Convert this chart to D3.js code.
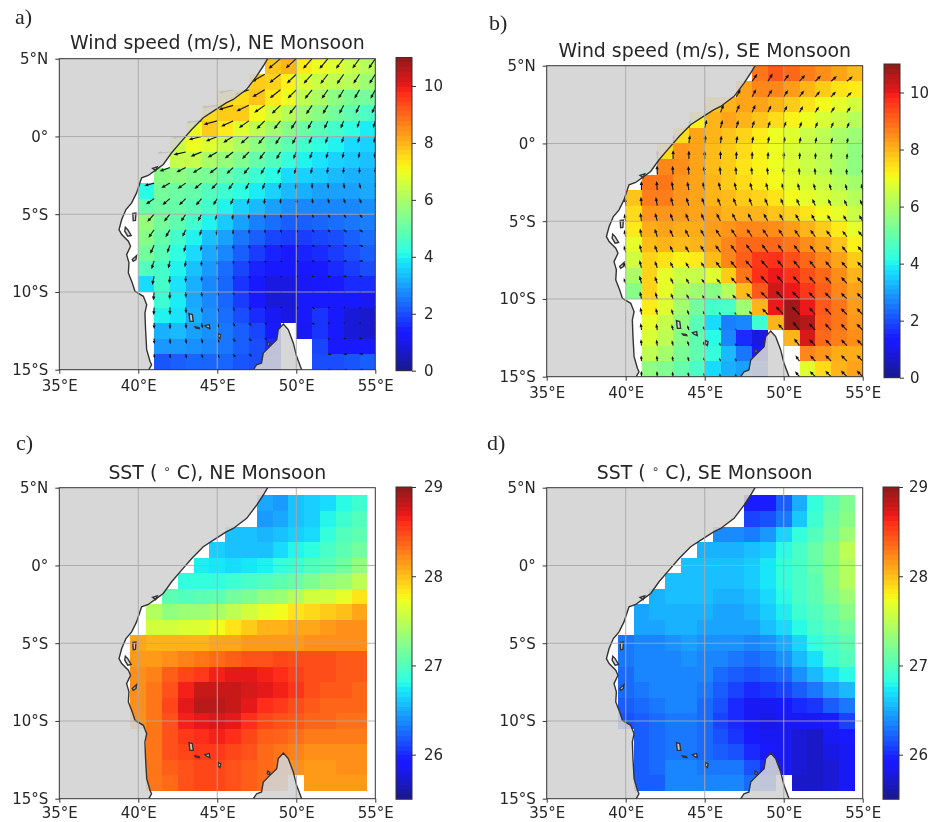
<!DOCTYPE html>
<html>
<head>
<meta charset="utf-8">
<script src="https://cdn.jsdelivr.net/npm/d3@7"></script>
<style>
    body { margin: 0; background: #fff; }
    svg { display: block; filter: blur(0.4px); }
    text { font-family: "DejaVu Sans", sans-serif; fill: #262626; }
</style>
</head>
<body>
<div id="chart"></div>
<script>
var _ = null;

var lonTicks = [35, 40, 45, 50, 55],
    latTicks = [5, 0, -5, -10, -15],
    lonGrid = [40, 45, 50],
    latGrid = [0, -5, -10],
    lonTickLabels = ['35°E', '40°E', '45°E', '50°E', '55°E'],
    latTickLabels = ['5°N', '0°', '5°S', '10°S', '15°S'],
    windTicks = [0, 2, 4, 6, 8, 10],
    sstTicks = [26, 27, 28, 29];

// wind cells: first row is lat 5..4, first column lon 40..41
var windNE = [
    [_,_,_,_,_,_,_,_,7.8,8.0,7.3,7.0,6.8,6.5,6.2],
    [_,_,_,_,_,_,_,7.7,7.6,7.2,6.8,6.5,6.3,6.2,5.8],
    [_,_,_,_,_,7.5,7.5,7.8,7.3,7,6.3,6,5.6,5.3,5.2],
    [_,_,_,_,7.5,7.7,7.7,7.1,6.6,6.2,5.8,5.5,5.2,4.9,4.6],
    [_,_,_,7,7.7,7.3,6.8,6.3,5.9,5.5,5.1,4.8,4.5,4.2,3.9],
    [_,_,6.5,7,6.8,6.4,6,5.6,5.2,4.9,4.5,4.2,4,3.7,3.6],
    [_,_,6.4,6.4,6,5.7,5.4,5,4.7,4.3,4,3.8,3.6,3.5,3.4],
    [_,5.5,5.6,5.4,5.3,5,4.7,4.4,4.1,3.7,3.6,3.5,3.3,3.2,3.2],
    [4.1,5.2,5.1,5,4.7,4.4,4.2,3.9,3.6,3.3,3.2,3,3,3,3.1],
    [5,5.1,5,4.8,4.5,4,3.6,3.3,3,2.8,2.7,2.7,2.7,2.7,2.8],
    [5.7,5.2,4.9,4.5,4,3.5,3,2.6,2.4,2.2,2.2,2.3,2.4,2.5,2.6],
    [5.5,5,4.5,4,3.4,3,2.5,2.2,1.9,1.8,1.8,1.9,2,2.2,2.4],
    [5.2,4.8,4.2,3.7,3.1,2.7,2.2,1.8,1.5,1.4,1.5,1.6,1.8,2,2.2],
    [4.7,4.5,4,3.4,2.9,2.4,1.9,1.5,1.3,1.2,1.3,1.4,1.6,1.8,2],
    [3.7,4.5,3.8,3.2,2.7,2.3,1.7,1.3,0.9,0.9,1.1,1.2,1.4,1.6,1.6],
    [_,4.4,3.9,3.1,2.7,2.3,1.8,1.3,0.8,0.8,1.2,1.3,1.3,1.3,1.1],
    [_,4,3.8,3.2,2.8,2.4,2,1.6,1.1,0.9,1.3,1.7,1.2,0.8,0.7],
    [_,3.2,3.3,3,2.8,2.5,2.2,1.9,1.4,_,1.1,1.7,1.2,0.8,0.7],
    [_,2.9,2.9,2.8,2.7,2.5,2.2,2,1.6,_,_,1.9,1.2,1.3,1.4],
    [_,2.1,2.2,2.3,2.3,2.3,2.1,2,1.8,_,_,2,2,2.1,2.2]
];

var windSE = [
    [_,_,_,_,_,_,_,_,8.8,9.2,9,8.7,8.5,8.2,7.9],
    [_,_,_,_,_,_,_,8.2,8.6,8.6,8.3,8,7.7,7.4,7.3],
    [_,_,_,_,_,7.8,8,8.2,8.2,8,7.7,7.4,7.1,6.9,6.6],
    [_,_,_,_,7.2,8,8.2,8,7.8,7.5,7.2,7,6.7,6.5,6.2],
    [_,_,_,7.5,8.2,8,7.8,7.6,7.3,7,6.8,6.5,6.3,6,5.8],
    [_,_,7.5,8.4,8.2,7.9,7.7,7.5,7.2,7,6.7,6.5,6.3,6,5.6],
    [_,_,8.6,8.5,8.2,7.9,7.7,7.4,7.2,7,6.8,6.5,6.3,6,5.6],
    [_,8.8,8.8,8.4,8.2,8,7.7,7.5,7.3,7.1,6.9,6.7,6.5,6.2,5.9],
    [7.8,8.7,8.7,8.4,8.2,8,7.9,7.7,7.6,7.4,7.1,6.9,6.7,6.5,6.2],
    [7.5,8.4,8.4,8.3,8.2,8.2,8,8,8,7.8,7.6,7.4,7.1,6.9,6.5],
    [7.3,8.1,8.2,8.1,8.1,8.3,8.4,8.6,8.6,8.5,8.3,8,7.7,7.3,6.9],
    [6.9,7.9,8,7.9,8,8.2,8.6,9,9,9,8.8,8.5,8.2,7.8,7.2],
    [6.6,7.6,7.4,7.2,7.3,7.9,8.6,9.1,9.6,9.7,9.3,9,8.6,8.2,7.7],
    [6,7.6,6.9,6.5,6.4,6.8,7.7,8.8,9.7,10,9.7,9.3,9,8.5,8],
    [5.5,7.6,6.9,6.1,5.8,5.5,6.2,7.9,9.2,10.3,10,9.6,9.1,8.6,8.2],
    [_,7.3,6.8,5.9,5.2,4.5,4.6,5.8,8,10,10.8,10,9.2,8.8,8.3],
    [_,6.9,6.4,5.6,4.8,3.7,2.6,2.7,4.4,8,10.8,10.6,9.1,8.8,8.4],
    [_,6.7,6.3,5.5,4.9,4.1,2.7,1.6,0.9,_,8,10.2,9,8.7,8.5],
    [_,6.3,5.9,5.3,4.9,4.3,3.3,2.5,1.4,_,_,8.6,8.4,8.1,8.1],
    [_,5.6,5.4,5,4.6,3.7,3.2,3,2.2,_,_,6.8,7.5,8,8.2]
];

// arrow direction (compass degrees the wind blows toward), first row lat 5, first column lon 40
var dirNE = [
    [_,_,_,_,_,_,_,_,_,230,228,222,220,218,216,214],
    [_,_,_,_,_,_,_,_,240,232,226,222,218,215,213,212],
    [_,_,_,_,_,_,258,250,240,232,225,219,215,212,210,208],
    [_,_,_,_,_,262,253,245,235,226,219,214,211,208,205,203],
    [_,_,_,_,265,255,245,235,225,218,213,208,205,202,199,197],
    [_,_,_,265,256,247,238,228,220,213,208,204,200,197,194,192],
    [_,_,265,257,248,240,232,224,216,210,204,199,195,191,188,187],
    [_,_,250,243,238,233,226,218,211,204,197,192,187,184,181,180],
    [_,255,240,235,230,224,216,208,200,192,185,180,176,173,170,167],
    [_,235,230,226,220,212,203,195,186,180,174,170,165,162,160,157],
    [_,222,218,213,207,200,190,182,176,170,165,158,150,148,143,140],
    [_,215,210,205,198,190,182,175,170,160,150,142,135,128,125,122],
    [_,205,200,195,188,182,175,165,155,140,125,118,112,108,107,105],
    [_,198,192,187,182,178,170,158,140,125,110,105,98,95,93,92],
    [_,192,185,181,178,172,165,150,130,115,100,95,90,88,85,85],
    [_,185,182,178,175,170,160,145,125,110,105,100,90,85,80,80],
    [_,183,180,176,172,165,155,140,120,110,105,110,95,85,75,75],
    [_,180,178,175,168,160,150,135,120,110,_,115,95,85,80,75],
    [_,178,176,172,165,155,145,130,120,110,_,_,110,90,85,80],
    [_,176,175,170,160,150,140,125,115,110,_,_,95,90,85,85],
    [_,175,172,165,155,145,130,120,_,_,_,_,90,88,85,85]
];

var dirSE = [
    [_,_,_,_,_,_,_,_,_,_,_,_,_,_,_,_],
    [_,_,_,_,_,_,_,_,35,32,38,42,45,48,50,52],
    [_,_,_,_,_,_,_,30,28,30,33,36,40,42,45,47],
    [_,_,_,_,_,_,22,23,24,25,28,30,32,34,36,38],
    [_,_,_,_,12,14,15,16,17,18,20,20,21,22,24,25],
    [_,_,_,5,7,6,7,8,9,10,10,11,11,12,12,12],
    [_,_,0,0,0,0,0,1,1,2,2,3,3,3,3,3],
    [_,_,358,356,356,355,355,355,355,354,354,355,355,355,355,355],
    [_,359,355,351,349,347,346,346,345,345,345,345,345,345,346,346],
    [355,356,350,345,342,340,339,338,338,337,337,337,336,336,335,335],
    [350,352,345,340,337,335,333,332,332,331,330,330,330,329,328,328],
    [348,350,342,336,332,330,327,326,325,325,325,325,324,323,322,322],
    [345,347,340,334,330,328,325,323,322,322,322,322,321,320,320,320],
    [340,345,340,334,329,326,323,320,318,318,320,320,320,319,318,318],
    [340,345,340,335,330,325,320,318,316,316,318,318,318,318,317,317],
    [345,348,343,338,333,328,322,317,315,315,315,315,316,316,316,316],
    [_,352,347,342,338,332,325,320,318,316,315,316,318,316,316,316],
    [_,353,350,345,340,335,330,325,325,322,317,320,316,316,316,316],
    [_,355,352,347,342,338,335,330,320,_,320,322,316,316,316,316],
    [_,356,354,350,346,342,338,335,330,_,_,325,318,316,316,316],
    [_,358,356,352,348,344,340,337,_,_,_,320,315,315,315,315]
];

// sst cells: first row is lat 4.5..3.5, first column lon 39.5..40.5
var sstNE = [
    [_,_,_,_,_,_,_,_,26.48,26.43,26.58,26.63,26.68,26.8,26.9],
    [_,_,_,_,_,_,_,_,26.43,26.48,26.58,26.63,26.78,26.9,27],
    [_,_,_,_,_,_,26.58,26.58,26.53,26.58,26.63,26.68,26.85,27,27.05],
    [_,_,_,_,_,26.63,26.58,26.58,26.58,26.68,26.78,26.83,26.95,27.05,27.15],
    [_,_,_,_,26.75,26.72,26.68,26.72,26.76,26.85,26.9,27,27.05,27.15,27.3],
    [_,_,_,26.85,26.85,26.85,26.9,26.95,27,27.05,27.1,27.2,27.3,27.35,27.5],
    [_,_,27.05,27,27.05,27.05,27.15,27.2,27.3,27.35,27.45,27.6,27.6,27.7,27.85],
    [_,27.45,27.3,27.35,27.35,27.4,27.5,27.6,27.7,27.75,27.85,27.9,27.95,28,28.1],
    [_,27.6,27.6,27.65,27.65,27.75,27.85,27.95,28.05,28.05,28.1,28.1,28.15,28.2,28.2],
    [28.1,28.05,28.05,28.05,28.05,28.1,28.1,28.15,28.15,28.15,28.15,28.2,28.2,28.2,28.2],
    [28.15,28.15,28.2,28.25,28.3,28.35,28.4,28.45,28.45,28.5,28.47,28.47,28.47,28.42,28.42],
    [28.2,28.25,28.4,28.5,28.55,28.65,28.7,28.7,28.65,28.6,28.52,28.47,28.47,28.42,28.42],
    [28.2,28.3,28.45,28.65,28.8,28.8,28.8,28.75,28.7,28.65,28.57,28.47,28.42,28.42,28.37],
    [28.2,28.3,28.5,28.7,28.85,28.85,28.8,28.7,28.6,28.55,28.47,28.42,28.37,28.37,28.37],
    [28.2,28.3,28.45,28.65,28.7,28.75,28.7,28.6,28.5,28.45,28.42,28.37,28.37,28.32,28.32],
    [_,28.3,28.45,28.55,28.6,28.65,28.6,28.5,28.4,28.38,28.33,28.28,28.28,28.28,28.28],
    [_,28.3,28.45,28.5,28.55,28.55,28.5,28.45,28.35,28.3,28.25,28.2,28.2,28.2,28.2],
    [_,28.3,28.4,28.45,28.5,28.5,28.45,28.4,28.35,28.3,28.2,28.15,28.15,28.2,28.2],
    [_,28.3,28.35,28.45,28.5,28.5,28.45,28.4,28.35,28.25,_,28.15,28.15,28.15,28.15]
];

var sstSE = [
    [_,_,_,_,_,_,_,_,25.95,25.95,26.2,26.5,26.85,27.05,27.2],
    [_,_,_,_,_,_,_,_,26.1,26.15,26.3,26.6,26.9,27.1,27.25],
    [_,_,_,_,_,_,26.37,26.37,26.32,26.42,26.65,26.85,27,27.15,27.35],
    [_,_,_,_,_,26.52,26.52,26.52,26.57,26.62,26.8,26.95,27.1,27.25,27.5],
    [_,_,_,_,26.57,26.57,26.57,26.57,26.62,26.72,26.85,26.95,27.1,27.25,27.45],
    [_,_,_,26.57,26.57,26.57,26.57,26.57,26.62,26.72,26.85,26.95,27.05,27.25,27.45],
    [_,_,26.52,26.57,26.57,26.57,26.52,26.52,26.57,26.67,26.8,26.95,27.05,27.2,27.35],
    [_,26.47,26.52,26.52,26.52,26.52,26.47,26.47,26.52,26.62,26.75,26.9,27,27.1,27.25],
    [_,26.47,26.47,26.52,26.52,26.47,26.47,26.47,26.47,26.57,26.67,26.8,26.95,27.05,27.15],
    [26.3,26.35,26.35,26.4,26.45,26.4,26.4,26.4,26.35,26.4,26.5,26.65,26.85,26.95,27.05],
    [26.3,26.35,26.35,26.35,26.4,26.35,26.35,26.3,26.25,26.3,26.4,26.55,26.7,26.9,27],
    [26.25,26.35,26.35,26.35,26.35,26.35,26.25,26.2,26.15,26.2,26.25,26.4,26.55,26.7,26.8],
    [26.25,26.3,26.35,26.35,26.35,26.3,26.2,26.1,26,26.05,26.1,26.2,26.3,26.45,26.55],
    [26.2,26.25,26.3,26.35,26.35,26.25,26.15,26,25.85,25.85,25.9,26,26.05,26.2,26.3],
    [26.15,26.2,26.25,26.3,26.3,26.25,26.1,26,25.85,25.8,25.85,25.85,25.85,25.95,26.1],
    [_,26.2,26.25,26.3,26.3,26.25,26.15,26.05,25.9,25.85,25.85,25.75,25.7,25.85,25.9],
    [_,26.2,26.25,26.3,26.3,26.25,26.2,26.15,26,25.9,25.85,25.75,25.7,25.8,25.85],
    [_,26.2,26.25,26.35,26.35,26.3,26.3,26.3,26.15,26,25.85,25.75,25.7,25.75,25.85],
    [_,26.2,26.2,26.35,26.35,26.35,26.35,26.35,26.25,26.15,_,25.7,25.7,25.75,25.85]
];

// coast, [lon, lat]
var africaCoast = [[48.19,5],[47.91,4.53],[47.49,3.88],[46.86,3.03],[46.01,2.38],[45.59,2.17],[44.75,1.63],
    [44.11,1.2],[43.38,0.45],[42.74,-0.3],[42.11,-1.05],[41.58,-1.8],[41.16,-2.12],[40.63,-2.51],[40.21,-2.66],
    [39.89,-3.63],[39.58,-4.27],[39.22,-4.7],[38.95,-5.34],[38.78,-5.99],[38.95,-6.31],[39.37,-6.74],[39.51,-7.06],
    [39.26,-7.6],[39.41,-8.13],[39.37,-8.78],[39.62,-9.42],[39.79,-9.96],[40.32,-10.28],[40.53,-10.82],[40.42,-11.35],
    [40.46,-12.42],[40.53,-13.71],[40.74,-14.46],[40.84,-14.68],[40.67,-15]];
var madagascarCoast = [[50.34,-15],[50.02,-14.14],[49.81,-13.28],[49.49,-12.42],[49.18,-12.06],[48.86,-12.42],
    [48.76,-13.07],[48.33,-13.5],[47.91,-13.93],[47.8,-14.57],[47.49,-14.68],[47.28,-15]];
var islands = [
    [[39.65,-4.95],[39.85,-4.92],[39.82,-5.4],[39.68,-5.42]],
    [[39.18,-5.84],[39.33,-5.99],[39.55,-6.37],[39.33,-6.41],[39.14,-6.09]],
    [[39.62,-7.92],[39.89,-7.66],[39.85,-7.92],[39.68,-8.03]],
    [[43.21,-11.39],[43.42,-11.46],[43.48,-11.89],[43.27,-11.89]],
    [[43.59,-12.25],[43.85,-12.3],[43.87,-12.36],[43.65,-12.33]],
    [[44.22,-12.17],[44.49,-12.1],[44.53,-12.36],[44.32,-12.27]],
    [[45.06,-12.68],[45.21,-12.75],[45.17,-13],[45.04,-12.9]],
    [[48.19,-13.22],[48.33,-13.3],[48.3,-13.45],[48.17,-13.4]],
    [[40.9,-2.05],[41.2,-1.95],[41.1,-2.2]]
];

// matplotlib jet
var jetR = d3.scaleLinear().domain([0, 0.35, 0.66, 0.89, 1]).range([0, 0, 1, 1, 0.5]),
    jetG = d3.scaleLinear().domain([0, 0.125, 0.375, 0.64, 0.91, 1]).range([0, 0, 1, 1, 0, 0]),
    jetB = d3.scaleLinear().domain([0, 0.11, 0.34, 0.65, 1]).range([0.5, 1, 1, 0, 0]);

var jet = function (t) {
    return d3.rgb(jetR(t) * 255, jetG(t) * 255, jetB(t) * 255).formatHex();
};

var svg = d3.select('#chart').append('svg')
    .attr('width', 930)
    .attr('height', 822);

var drawPanel = function (p, index) {
    var x = d3.scaleLinear().domain([35, 55]).range([p.left, p.left + 316]),
        y = d3.scaleLinear().domain([5, -15]).range([p.top, p.top + 311]),
        color = d3.scaleLinear().domain(p.range).range([0, 1]).clamp(true),
        line = d3.line().x(function (d) { return x(d[0]); }).y(function (d) { return y(d[1]); }),
        clipId = 'clip' + index,
        cells = [];

    p.cells.forEach(function (row, i) {
        row.forEach(function (v, j) {
            if (v !== null) {
                cells.push({lon: p.cellLon + j, lat: p.cellLat - i, value: v});
            }
        });
    });

    svg.append('clipPath').attr('id', clipId).append('rect')
        .attr('x', x(35)).attr('y', y(5))
        .attr('width', x(55) - x(35)).attr('height', y(-15) - y(5));

    var g = svg.append('g').attr('clip-path', 'url(#' + clipId + ')');

    // whole mesh is slightly see-through, so it is one group
    g.append('g').style('opacity', 0.9).selectAll('.cell')
        .data(cells)
        .enter().append('rect')
        .attr('class', 'cell')
        .attr('x', function (d) { return x(d.lon); })
        .attr('y', function (d) { return y(d.lat); })
        .attr('width', function (d) { return x(d.lon + 1) - x(d.lon); })
        .attr('height', function (d) { return y(d.lat - 1) - y(d.lat); })
        .attr('shape-rendering', 'crispEdges')
        .style('fill', function (d) { return jet(color(d.value)); });

    if (p.dirs) {
        var arrows = [];
        p.dirs.forEach(function (row, i) {
            row.forEach(function (dir, j) {
                var speed = p.cells[Math.min(i, 19)][Math.min(j, 14)];
                if (dir !== null && speed !== null) {
                    arrows.push({lon: 40 + j, lat: 5 - i, dir: dir, size: speed * p.arrowScale});
                }
            });
        });
        // quiver tails sit on the grid points
        g.selectAll('.arrow')
            .data(arrows)
            .enter().append('path')
            .attr('class', 'arrow')
            .attr('transform', function (d) {
                return 'translate(' + x(d.lon) + ',' + y(d.lat) + ') rotate(' + d.dir + ')';
            })
            .attr('d', function (d) {
                var head = Math.min(4, d.size * 0.6),
                    w = 0.55,
                    hw = Math.min(1.7, 0.55 + d.size * 0.14);
                return 'M' + (-w) + ',0L' + (-w) + ',' + (head - d.size) + 'L' + (-hw) + ',' + (head - d.size) +
                    'L0,' + (-d.size) + 'L' + hw + ',' + (head - d.size) + 'L' + w + ',' + (head - d.size) + 'L' + w + ',0Z';
            })
            .style('fill', '#111');
    }

    // land goes over the cells, a little see-through
    var land = g.append('g').style('fill', '#d3d3d3').style('fill-opacity', 0.9).style('stroke', 'none');
    land.append('path').attr('d', line(africaCoast.concat([[35, -15], [35, 5]])) + 'Z');
    land.append('path').attr('d', line(madagascarCoast) + 'Z');
    land.selectAll('.island')
        .data(islands)
        .enter().append('path')
        .attr('class', 'island')
        .attr('d', function (d) { return line(d) + 'Z'; });

    var coast = g.append('g').style('fill', 'none').style('stroke', '#333').style('stroke-width', 1.4);
    coast.append('path').attr('d', line(africaCoast));
    coast.append('path').attr('d', line(madagascarCoast));
    coast.selectAll('.island')
        .data(islands)
        .enter().append('path')
        .attr('class', 'island')
        .attr('d', function (d) { return line(d) + 'Z'; });

    g.selectAll('.lonGrid')
        .data(lonGrid)
        .enter().append('line')
        .attr('class', 'lonGrid')
        .attr('x1', x).attr('x2', x)
        .attr('y1', y(5)).attr('y2', y(-15))
        .style('stroke', '#a8a8a8').style('stroke-opacity', 0.85).style('stroke-width', 1.1);

    g.selectAll('.latGrid')
        .data(latGrid)
        .enter().append('line')
        .attr('class', 'latGrid')
        .attr('y1', y).attr('y2', y)
        .attr('x1', x(35)).attr('x2', x(55))
        .style('stroke', '#a8a8a8').style('stroke-opacity', 0.85).style('stroke-width', 1.1);

    svg.append('rect')
        .attr('x', x(35)).attr('y', y(5))
        .attr('width', x(55) - x(35)).attr('height', y(-15) - y(5))
        .style('fill', 'none').style('stroke', '#333').style('stroke-width', 1);

    var xAxis = d3.axisBottom(x)
            .tickValues(lonTicks)
            .tickFormat(function (d, i) { return lonTickLabels[i]; })
            .tickSize(4).tickPadding(p.xPad),
        yAxis = d3.axisLeft(y)
            .tickValues(latTicks)
            .tickFormat(function (d, i) { return latTickLabels[i]; })
            .tickSize(4).tickPadding(7);

    var axes = svg.append('g');
    axes.append('g').attr('transform', 'translate(0,' + y(-15) + ')').call(xAxis);
    axes.append('g').attr('transform', 'translate(' + x(35) + ',0)').call(yAxis);
    axes.selectAll('.domain').remove();
    axes.selectAll('.tick line').style('stroke', '#333');
    axes.selectAll('text').style('font-family', '"DejaVu Sans"').style('font-size', '15px');

    // title, the degree sign is a raised math circle
    var title = svg.append('text')
        .attr('x', (x(35) + x(55)) / 2)
        .attr('y', p.titleY)
        .attr('text-anchor', 'middle')
        .style('font-size', '18.9px');
    p.title.forEach(function (part) {
        title.append('tspan')
            .attr('dy', part.dy || 0)
            .style('font-size', part.size || null)
            .text(part.text);
    });

    svg.append('text')
        .attr('x', p.labelX)
        .attr('y', p.labelY)
        .style('font-family', '"Liberation Serif", serif')
        .style('font-size', '22px')
        .text(p.label);

    // colour bar
    var levels = d3.range(64),
        barY = d3.scaleLinear().domain(p.range).range([p.barBottom, p.barTop]),
        band = d3.scaleBand().domain(levels).range([p.barBottom, p.barTop]);

    svg.append('g').style('opacity', 0.9).selectAll('rect')
        .data(levels)
        .enter().append('rect')
        .attr('x', p.barLeft)
        .attr('y', function (d) { return band(d); })
        .attr('width', 16)
        .attr('height', Math.abs(band.bandwidth()))
        .attr('shape-rendering', 'crispEdges')
        .style('fill', function (d) { return jet((d + 0.5) / 64); });

    svg.append('rect')
        .attr('x', p.barLeft).attr('y', p.barTop)
        .attr('width', 16).attr('height', p.barBottom - p.barTop)
        .style('fill', 'none').style('stroke', '#333').style('stroke-width', 1);

    var barAxis = svg.append('g')
        .attr('transform', 'translate(' + (p.barLeft + 16) + ',0)')
        .call(d3.axisRight(barY).tickValues(p.ticks).tickFormat(d3.format('d')).tickSize(4).tickPadding(p.barPad));
    barAxis.select('.domain').remove();
    barAxis.selectAll('.tick line').style('stroke', '#333');
    barAxis.selectAll('text').style('font-family', '"DejaVu Sans"').style('font-size', '15px');
};

var sstTitle = function (season) {
    return [
        {text: 'SST ( '},
        {text: '∘', dy: -6, size: '12px'},
        {text: ' C), ' + season + ' Monsoon', dy: 6}
    ];
};

[
    {label: 'a)', labelX: 15, labelY: 24, title: [{text: 'Wind speed (m/s), NE Monsoon'}], titleY: 49,
        left: 59.3, top: 58.7, cells: windNE, cellLon: 40, cellLat: 5, dirs: dirNE, arrowScale: 1.95,
        range: [0, 11], ticks: windTicks, barLeft: 396, barTop: 57.5, barBottom: 370.7, xPad: 7, barPad: 8},
    {label: 'b)', labelX: 489, labelY: 30, title: [{text: 'Wind speed (m/s), SE Monsoon'}], titleY: 56.5,
        left: 546.7, top: 65.7, cells: windSE, cellLon: 40, cellLat: 5, dirs: dirSE, arrowScale: 1.05,
        range: [0, 11], ticks: windTicks, barLeft: 884, barTop: 64, barBottom: 377.7, xPad: 7, barPad: 6},
    {label: 'c)', labelX: 16, labelY: 450, title: sstTitle('NE'), titleY: 479,
        left: 59.3, top: 487.7, cells: sstNE, cellLon: 39.5, cellLat: 4.5, dirs: null,
        range: [25.5, 29], ticks: sstTicks, barLeft: 396, barTop: 487, barBottom: 799.3, xPad: 5, barPad: 8},
    {label: 'd)', labelX: 487, labelY: 450, title: sstTitle('SE'), titleY: 479,
        left: 546.7, top: 487.7, cells: sstSE, cellLon: 39.5, cellLat: 4.5, dirs: null,
        range: [25.5, 29], ticks: sstTicks, barLeft: 883, barTop: 487, barBottom: 799.3, xPad: 5, barPad: 6}
].forEach(drawPanel);
</script>
</body>
</html>
